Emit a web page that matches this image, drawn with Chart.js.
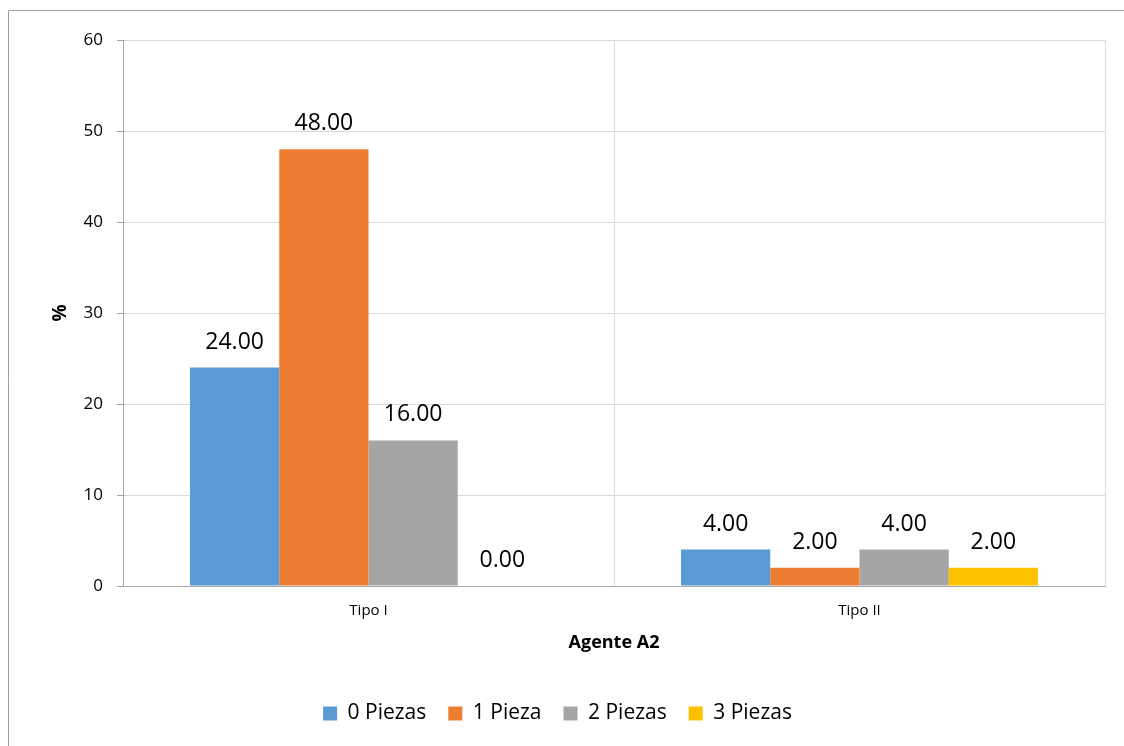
<!DOCTYPE html>
<html>
<head>
<meta charset="utf-8">
<script src="https://cdn.jsdelivr.net/npm/chart.js@4"></script>
<style>
  html, body { margin: 0; padding: 0; background: #ffffff; }
  #wrap { width: 1124px; height: 746px; position: relative; }
  canvas { display: block; }
</style>
</head>
<body>
<div id="wrap"><canvas id="chart" width="1124" height="746"></canvas></div>
<script>
// Categories and series (percentages)
const categories = ['Tipo I', 'Tipo II'];
const seriesNames = ['0 Piezas', '1 Pieza', '2 Piezas', '3 Piezas'];
const piezas0 = [24.00, 4.00];
const pieza1 = [48.00, 2.00];
const piezas2 = [16.00, 4.00];
const piezas3 = [0.00, 2.00];
const seriesColors = ['#5B9BD5', '#ED7D31', '#A5A5A5', '#FFC000'];
const yTicks = [0, 10, 20, 30, 40, 50, 60];

const FONT = "'Open Sans', 'Liberation Sans', sans-serif";
const LEGEND_TOP = 681;

// Outer frame of the chart object
const framePlugin = {
  id: 'frame',
  beforeDraw(chart) {
    const ctx = chart.ctx;
    ctx.save();
    ctx.fillStyle = '#ffffff';
    ctx.fillRect(0, 0, chart.width, chart.height);
    ctx.strokeStyle = '#a0a0a0';
    ctx.lineWidth = 1;
    ctx.beginPath();
    ctx.moveTo(8.5, chart.height + 2);
    ctx.lineTo(8.5, 10.5);
    ctx.lineTo(chart.width + 2, 10.5);
    ctx.stroke();
    ctx.restore();
  }
};

// Value labels above each bar
const valueLabels = {
  id: 'valueLabels',
  afterDatasetsDraw(chart) {
    const ctx = chart.ctx;
    ctx.save();
    ctx.font = '23px ' + FONT;
    ctx.fillStyle = '#000000';
    ctx.textAlign = 'center';
    ctx.textBaseline = 'alphabetic';
    chart.data.datasets.forEach((ds, i) => {
      const meta = chart.getDatasetMeta(i);
      meta.data.forEach((bar, j) => {
        ctx.fillText(ds.data[j].toFixed(2), bar.x, bar.y - 19);
      });
    });
    ctx.restore();
  }
};

const seriesData = [piezas0, pieza1, piezas2, piezas3];

new Chart(document.getElementById('chart'), {
  type: 'bar',
  data: {
    labels: categories,
    datasets: seriesNames.map((name, i) => ({
      label: name,
      data: seriesData[i],
      backgroundColor: seriesColors[i],
      borderWidth: 0,
      categoryPercentage: 0.727,
      barPercentage: 1.0
    }))
  },
  options: {
    responsive: false,
    animation: false,
    devicePixelRatio: 1,
    layout: { padding: { left: 10, right: 19, top: 40, bottom: 12 } },
    plugins: {
      legend: {
        position: 'bottom',
        labels: {
          boxWidth: 14,
          boxHeight: 14,
          padding: 22,
          color: '#000000',
          font: { family: FONT, size: 21 }
        }
      },
      tooltip: { enabled: false }
    },
    scales: {
      x: {
        offset: true,
        grid: {
          offset: true,
          color: '#d9d9d9',
          drawTicks: false
        },
        border: { color: '#a6a6a6', width: 1 },
        ticks: {
          padding: 16,
          color: '#000000',
          font: { family: FONT, size: 15 }
        },
        title: {
          display: true,
          text: 'Agente A2',
          color: '#000000',
          font: { family: FONT, size: 18, weight: 'bold' },
          padding: { top: 0, bottom: 27 }
        },
        afterFit(scale) { scale.height = LEGEND_TOP - 586; }
      },
      y: {
        min: 0,
        max: 60,
        afterBuildTicks(scale) { scale.ticks = yTicks.map(v => ({ value: v })); },
        grid: {
          color: '#d9d9d9',
          tickColor: '#a6a6a6',
          tickLength: 6
        },
        border: { color: '#a6a6a6', width: 1 },
        ticks: {
          padding: 14,
          color: '#000000',
          font: { family: FONT, size: 17 }
        },
        title: {
          display: true,
          text: '%',
          color: '#000000',
          font: { family: FONT, size: 19, weight: 'bold' },
          padding: { top: 39, bottom: 0 }
        },
        afterFit(scale) { scale.width = 113; }
      }
    }
  },
  plugins: [framePlugin, valueLabels]
});
</script>
</body>
</html>
